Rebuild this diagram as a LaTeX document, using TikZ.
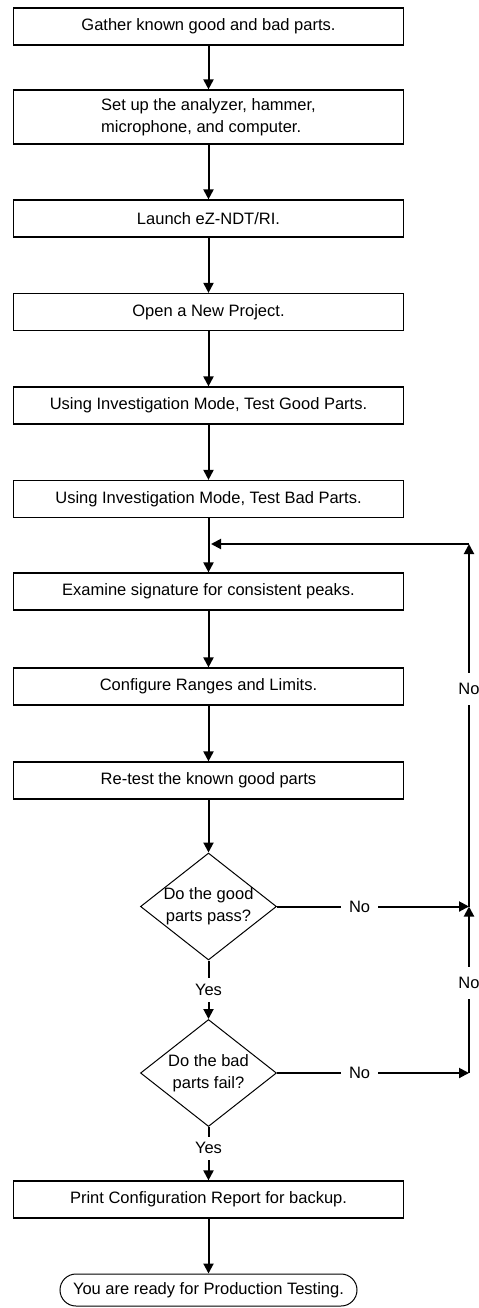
\documentclass[tikz,border=0pt]{standalone}
\usepackage{fontspec}
\setmainfont{Liberation Sans}
\usetikzlibrary{shapes.geometric, arrows.meta}
\tikzset{
	procbox/.style  ={rectangle, draw=black, line width=0.6pt, minimum width=195pt, minimum height=18.5pt, align=center, inner sep=1pt},
	query/.style    ={diamond, draw=black, line width=0.5pt, minimum width=68pt, minimum height=53.5pt, align=center, inner sep=-3pt},
	finish/.style   ={rectangle, rounded corners=8pt, draw=black, line width=0.5pt, minimum width=148.5pt, minimum height=16pt, align=center},
	flowarrow/.style={-{Triangle[length=5pt, width=5pt]}, line width=1pt},
	lbl/.style      ={fill=white, inner xsep=4pt, inner ysep=3pt},
}
\begin{document}
\begin{tikzpicture}[x=0.5pt, y=-0.5pt, font=\fontsize{8.25}{10.8}\selectfont]
	\useasboundingbox (0,0) rectangle (478,1308);
	% main column
	\node[procbox] (gather)  at (208.5,26.5)  {Gather known good and bad parts.};
	\node[procbox, minimum height=27pt, align=left] (setup) at (208.5,117) {Set up the analyzer, hammer,\\microphone, and computer.};
	\node[procbox] (launch)  at (208.5,218.5) {Launch eZ-NDT/RI.};
	\node[procbox] (project) at (208.5,312)   {Open a New Project.};
	\node[procbox] (goodtst) at (208.5,405.5) {Using Investigation Mode, Test Good Parts.};
	\node[procbox] (badtst)  at (208.5,499)   {Using Investigation Mode, Test Bad Parts.};
	\node[procbox] (examine) at (208.5,591.5) {Examine signature for consistent peaks.};
	\node[procbox] (ranges)  at (208.5,686.5) {Configure Ranges and Limits.};
	\node[procbox] (retest)  at (208.5,780.5) {Re-test the known good parts};
	\node[query]   (goodq)   at (208.5,906.5) {Do the good\\parts pass?};
	\node[query]   (badq)    at (208.5,1073)  {Do the bad\\parts fail?};
	\node[procbox] (report)  at (208.5,1199.5) {Print Configuration Report for backup.};
	\node[finish]  (ready)   at (208.5,1290)  {You are ready for Production Testing.};
	% loop back points
	\coordinate (merge) at (211,544);
	\coordinate (loop)  at (469,544);
	\coordinate (rt1)   at (469,906.5);
	\coordinate (rt2)   at (469,1073);

	\draw[flowarrow] (gather) -- (setup);
	\draw[flowarrow] (setup) -- (launch);
	\draw[flowarrow] (launch) -- (project);
	\draw[flowarrow] (project) -- (goodtst);
	\draw[flowarrow] (goodtst) -- (badtst);
	\draw[flowarrow] (badtst) -- (examine);
	\draw[flowarrow] (examine) -- (ranges);
	\draw[flowarrow] (ranges) -- (retest);
	\draw[flowarrow] (retest) -- (goodq);
	\draw[flowarrow] (goodq) -- node[lbl]{Yes} (badq);
	\draw[flowarrow] (badq) -- node[lbl, pos=0.4]{Yes} (report);
	\draw[flowarrow] (report) -- (ready);

	\draw[flowarrow] (goodq.east) -- node[lbl, pos=0.43]{No} (rt1);
	\draw[flowarrow] (badq.east) -- node[lbl, pos=0.43]{No} (rt2);
	\draw[flowarrow] (rt2) -- node[lbl, inner ysep=5pt, pos=0.54]{No} (rt1);
	\draw[flowarrow] (rt1) -- node[lbl, inner ysep=5pt, pos=0.6]{No} (loop);
	\draw[flowarrow] (loop) -- (merge);
\end{tikzpicture}
\end{document}
